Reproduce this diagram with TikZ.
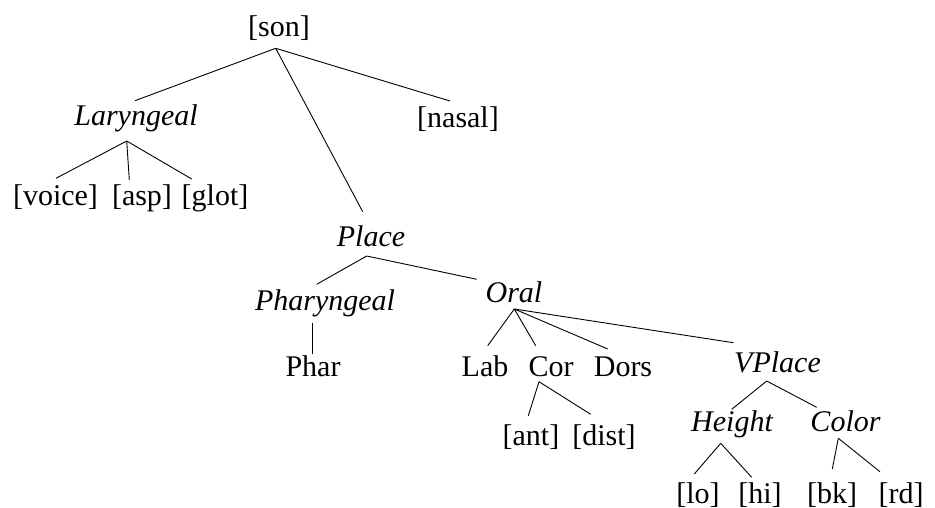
\documentclass[tikz,border=0pt]{standalone}
\usepackage{fontspec}
\setmainfont{Liberation Serif}
\usetikzlibrary{calc}
\tikzset{
  lbl/.style={anchor=base, inner sep=0pt, font=\fontsize{30}{36}\selectfont},
  ilbl/.style={lbl, font=\fontsize{30}{36}\selectfont\itshape},
  edge/.style={line width=0.9pt, black}
}
\begin{document}
\begin{tikzpicture}[x=1pt,y=-1pt]
\useasboundingbox (0,0) rectangle (935,508);
% nodes (center x, baseline y)
\node[lbl]  (son)    at (279,36.7)  {[son]};
\node[ilbl] (lar)    at (136,126)   {Laryngeal};
\node[lbl]  (nasal)  at (458,128)   {[nasal]};
\node[lbl]  (voice)  at (55.5,205)  {[voice]};
\node[lbl]  (asp)    at (142,205)   {[asp]};
\node[lbl]  (glot)   at (215,205)   {[glot]};
\node[ilbl] (place)  at (371,247)   {Place};
\node[ilbl] (phgl)   at (325,310.5) {Pharyngeal};
\node[ilbl] (oral)   at (514,302)   {Oral};
\node[lbl]  (phar)   at (313,376.7) {Phar};
\node[lbl]  (lab)    at (485,376)   {Lab};
\node[lbl]  (cor)    at (551,376)   {Cor};
\node[lbl]  (dors)   at (623,376)   {Dors};
\node[ilbl] (vplace) at (777.5,372) {VPlace};
\node[lbl]  (ant)    at (531,445)   {[ant]};
\node[lbl]  (dist)   at (604,445)   {[dist]};
\node[ilbl] (height) at (732,431.7) {Height};
\node[ilbl] (color)  at (845.5,431.7) {Color};
\node[lbl]  (lo)     at (698,503)   {[lo]};
\node[lbl]  (hi)     at (760,503)   {[hi]};
\node[lbl]  (bk)     at (832,503)   {[bk]};
\node[lbl]  (rd)     at (901,503)   {[rd]};
% connectors
\draw[edge] ($(son.base)+(-3.3,11.6)$) -- ($(lar.base)+(-1,-25.3)$);
\draw[edge] ($(son.base)+(-3.3,11.6)$) -- ($(place.base)+(-8.3,-35.3)$);
\draw[edge] ($(son.base)+(-3.3,11.6)$) -- ($(nasal.base)+(-8,-27)$);
\draw[edge] ($(lar.base)+(-9.3,15)$) -- ($(voice.base)+(0.5,-26.7)$);
\draw[edge] ($(lar.base)+(-9.3,15)$) -- ($(asp.base)+(-12.7,-25)$);
\draw[edge] ($(lar.base)+(-9.3,15)$) -- ($(glot.base)+(-23.3,-26)$);
\draw[edge] ($(place.base)+(-4.3,9)$) -- ($(phgl.base)+(-8.3,-26.2)$);
\draw[edge] ($(place.base)+(-4.3,9)$) -- ($(oral.base)+(-37.3,-22.7)$);
\draw[edge] ($(phgl.base)+(-12.3,12.2)$) -- ($(phar.base)+(-0.3,-22.7)$);
\draw[edge] ($(oral.base)+(0.3,7)$) -- ($(lab.base)+(2.7,-30.3)$);
\draw[edge] ($(oral.base)+(0.3,7)$) -- ($(cor.base)+(-15.3,-30.3)$);
\draw[edge] ($(oral.base)+(0.3,7)$) -- ($(dors.base)+(-15.3,-27)$);
\draw[edge] ($(oral.base)+(0.3,7)$) -- ($(vplace.base)+(-44.2,-29.3)$);
\draw[edge] ($(cor.base)+(-12,5.7)$) -- ($(ant.base)+(-2.7,-29.3)$);
\draw[edge] ($(cor.base)+(-12,5.7)$) -- ($(dist.base)+(-13.3,-30.7)$);
\draw[edge] ($(vplace.base)+(-10.8,9)$) -- ($(height.base)+(-0.3,-22.4)$);
\draw[edge] ($(vplace.base)+(-10.8,9)$) -- ($(color.base)+(-28.8,-24.4)$);
\draw[edge] ($(height.base)+(-11.3,11.6)$) -- ($(lo.base)+(-3.7,-29)$);
\draw[edge] ($(height.base)+(-11.3,11.6)$) -- ($(hi.base)+(-8.3,-25.7)$);
\draw[edge] ($(color.base)+(-7.2,6.6)$) -- ($(bk.base)+(0.3,-34)$);
\draw[edge] ($(color.base)+(-7.2,6.6)$) -- ($(rd.base)+(-21,-31.3)$);
\end{tikzpicture}
\end{document}
